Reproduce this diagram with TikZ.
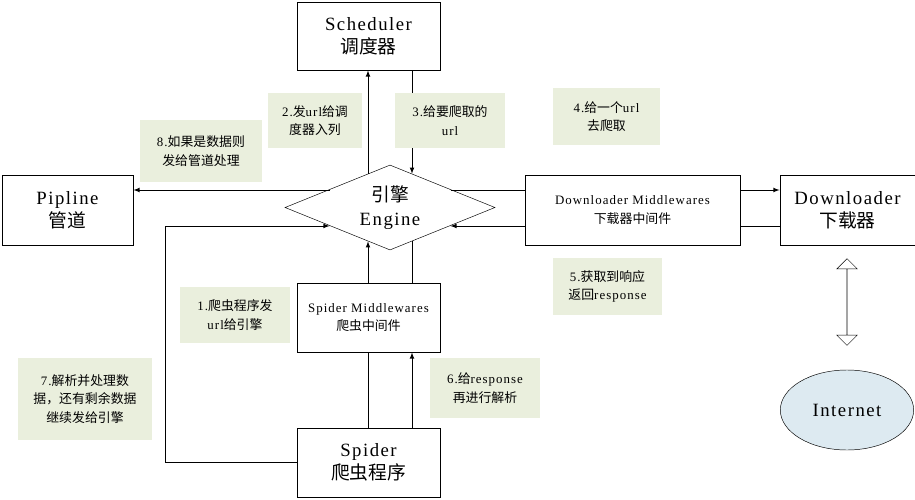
\documentclass[tikz,border=0pt]{standalone}
\usepackage{fontspec}
\setmainfont[LetterSpace=8]{Liberation Serif}
\newfontfamily\cjk{Noto Sans CJK SC}[LetterSpace=0]
\usetikzlibrary{shapes.geometric,shapes.arrows,calc}
\definecolor{notebg}{HTML}{EAEFDD}
\definecolor{netbg}{HTML}{DDEAF1}
\begin{document}
\begin{tikzpicture}[x=0.03cm,y=-0.03cm,
    box/.style={draw, thick, inner sep=0, align=center, font=\fontsize{16}{20}\selectfont},
    note/.style={fill=notebg, inner sep=0, align=center, font=\fontsize{11}{16}\selectfont},
    link/.style={thick, -latex}]
    \useasboundingbox (0,0) rectangle (915,500);
    % Boxes
    \node[box, minimum width=4.29cm, minimum height=2.04cm] (sch) at (368.5,36) {Scheduler\\{\cjk 调度器}};
    \node[box, minimum width=3.93cm, minimum height=2.1cm] (pip) at (67.5,210) {Pipline\\{\cjk 管道}};
    \node[box, minimum width=6.45cm, minimum height=2.1cm, font=\fontsize{11}{16}\selectfont] (dmw) at (632.5,210) {Downloader Middlewares\\{\cjk 下载器中间件}};
    \node[box, minimum width=4.05cm, minimum height=2.1cm] (dl) at (847.5,210) {Downloader\\{\cjk 下载器}};
    \node[box, minimum width=4.29cm, minimum height=2.07cm, font=\fontsize{11}{16}\selectfont] (smw) at (368.5,317.5) {Spider Middlewares\\{\cjk 爬虫中间件}};
    \node[box, minimum width=4.29cm, minimum height=2.07cm] (sp) at (368.5,462.5) {Spider\\{\cjk 爬虫程序}};
    % Engine
    \node[draw, diamond, aspect=2.47, inner sep=0, minimum width=6.3cm, minimum height=2.55cm, align=center, font=\fontsize{16}{20}\selectfont] (eng) at (390,207.5) {{\cjk 引擎}\\Engine};
    % Internet
    \node[draw, ellipse, fill=netbg, minimum width=4cm, minimum height=2.4cm, font=\fontsize{16}{20}\selectfont] (net) at (847,410) {Internet};
    \node[draw, double arrow, double arrow head extend=0.3cm, minimum height=2.6cm, minimum width=0.6cm, rotate=90, inner sep=0, text width=2.2cm] (dbl) at (847,302) {};
    % Engine anchors
    \coordinate (eTl) at ($(eng.north)+(-22,8.9)$);
    \coordinate (eTr) at ($(eng.north)+(22,8.9)$);
    \coordinate (eBl) at ($(eng.south)+(-22,-8.9)$);
    \coordinate (eBr) at ($(eng.south)+(22,-8.9)$);
    \coordinate (eL1) at (329.5,190);
    \coordinate (eR1) at (450.5,190);
    \coordinate (eL2) at (329.5,226);
    \coordinate (eR2) at (450.5,226);
    % Edges
    \draw[link] (eTl) -- (eTl |- sch.south);
    \draw[link] (sch.south -| eTr) -- (eTr);
    \draw[link] (eL1) -- (pip.east |- eL1);
    \draw[thick] (eR1) -- (dmw.west |- eR1);
    \draw[link] (dmw.west |- eR2) -- (eR2);
    \draw[link] (dmw.east |- eR1) -- (dl.west |- eR1);
    \draw[thick] (dl.west |- eR2) -- (dmw.east |- eR2);
    \draw[link] (smw.north -| eBl) -- (eBl);
    \draw[thick] (eBr) -- (smw.north -| eBr);
    \draw[thick] (sp.north -| eBl) -- (smw.south -| eBl);
    \draw[link] (sp.north -| eBr) -- (smw.south -| eBr);
    \draw[link] (sp.west) -- (165,462.5) -- (165,226) -- (eL2);
    % Notes
    \node[note, minimum width=2.82cm, minimum height=1.65cm] (n2) at (315,120.5) {2.{\cjk 发}url{\cjk 给调}\\{\cjk 度器入列}};
    \node[note, minimum width=3.3cm, minimum height=1.65cm] (n3) at (450,120.5) {3.{\cjk 给要爬取的}\\url};
    \node[note, minimum width=3.21cm, minimum height=1.71cm] (n4) at (606.5,116.5) {4.{\cjk 给一个}url\\{\cjk 去爬取}};
    \node[note, minimum width=3.66cm, minimum height=1.86cm] (n8) at (201,151) {8.{\cjk 如果是数据则}\\{\cjk 发给管道处理}};
    \node[note, minimum width=3.27cm, minimum height=1.71cm] (n5) at (607.5,286.5) {5.{\cjk 获取到响应}\\{\cjk 返回}response};
    \node[note, minimum width=3.3cm, minimum height=1.68cm] (n1) at (235,315) {1.{\cjk 爬虫程序发}\\url{\cjk 给引擎}};
    \node[note, minimum width=4.02cm, minimum height=2.46cm] (n7) at (85,399) {7.{\cjk 解析并处理数}\\{\cjk 据，还有剩余数据}\\{\cjk 继续发给引擎}};
    \node[note, minimum width=3.3cm, minimum height=1.8cm] (n6) at (485,388) {6.{\cjk 给}response\\{\cjk 再进行解析}};
\end{tikzpicture}
\end{document}
